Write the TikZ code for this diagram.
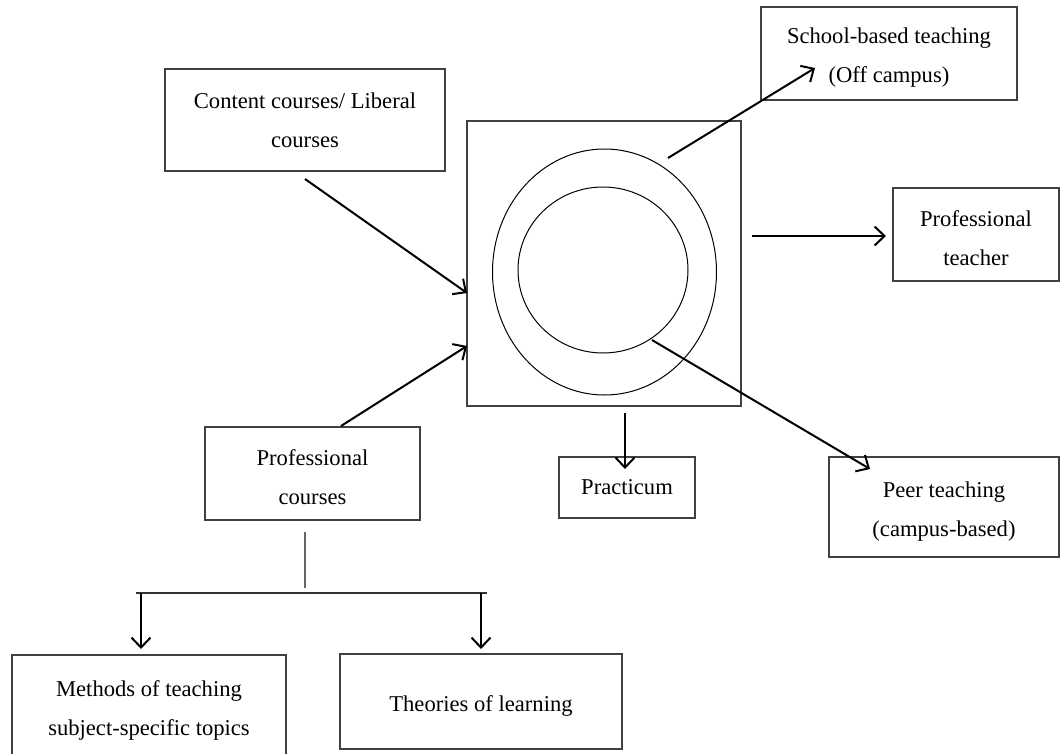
\documentclass[tikz,border=0pt]{standalone}
\usepackage{fontspec}
\setmainfont{Liberation Serif}
\usetikzlibrary{arrows.meta,calc}
\newcommand{\lowr}{\rule{0pt}{24pt}}
\begin{document}
\begin{tikzpicture}[x=1pt,y=-1pt,
  box/.style={draw=black!75,line width=1.2pt,rectangle,inner sep=0pt,align=center,
    font=\fontsize{22.6}{39}\selectfont},
  arr/.style={line width=2pt,-{Straight Barb[length=10pt,width=19pt,line width=2pt]}},
  ring/.style={draw=black,line width=1pt}]
\useasboundingbox (0,0) rectangle (1061,753);
\clip (0,0) rectangle (1061,753);
% nodes
\node[box,minimum width=280,minimum height=102] (content) at (305,120) {Content courses/ Liberal\\courses};
\node[box,minimum width=274,minimum height=285] (core) at (604,263.5) {};
\node[box,minimum width=256,minimum height=93] (school) at (889,53.5) {\lowr School-based teaching\\(Off campus)};
\node[box,minimum width=166,minimum height=93] (teacher) at (976,234.5) {\lowr Professional\\teacher};
\node[box,minimum width=230,minimum height=100] (peer) at (944,507) {\lowr Peer teaching\\(campus-based)};
\node[box,minimum width=136,minimum height=61] (prac) at (627,487.5) {Practicum};
\node[box,minimum width=215,minimum height=93] (prof) at (312.5,473.5) {\lowr Professional\\courses};
\node[box,minimum width=274,minimum height=110] (methods) at (149,710) {Methods of teaching\\subject-specific topics};
\node[box,minimum width=282,minimum height=95] (theories) at (481,701.5) {\lowr Theories of learning};
% rings
\draw[ring] (604.5,272) ellipse [x radius=112, y radius=123];
\draw[ring] (603,270) ellipse [x radius=85, y radius=83];
% coordinates for connector ends
\coordinate (c1) at (305,179);
\coordinate (c1e) at (467,293);
\coordinate (p1) at (341,426);
\coordinate (p1e) at (467,346);
\coordinate (s1) at (668,158);
\coordinate (s1e) at (815,68);
\coordinate (t1) at (752,236);
\coordinate (t1e) at (886,236);
\coordinate (q1) at (652,340);
\coordinate (q1e) at (870,469);
\coordinate (r1) at (625,413);
\coordinate (r1e) at (625,469);
\coordinate (v1) at (305,532);
\coordinate (v2) at (305,588);
\coordinate (hL) at (136,593);
\coordinate (hR) at (487,593);
\coordinate (mL) at (141,593);
\coordinate (mLe) at (141,649);
\coordinate (mR) at (481,593);
\coordinate (mRe) at (481,649);
% connectors
\draw[arr] (c1) -- (c1e);
\draw[arr] (p1) -- (p1e);
\draw[arr] (s1) -- (s1e);
\draw[arr] (t1) -- (t1e);
\draw[arr] (q1) -- (q1e);
\draw[arr] (r1) -- (r1e);
\draw[draw=black!60,line width=1.2pt] (v1) -- (v2);
\draw[draw=black!80,line width=1.5pt] (hL) -- (hR);
\draw[arr] (mL) -- (mLe);
\draw[arr] (mR) -- (mRe);
\end{tikzpicture}
\end{document}
